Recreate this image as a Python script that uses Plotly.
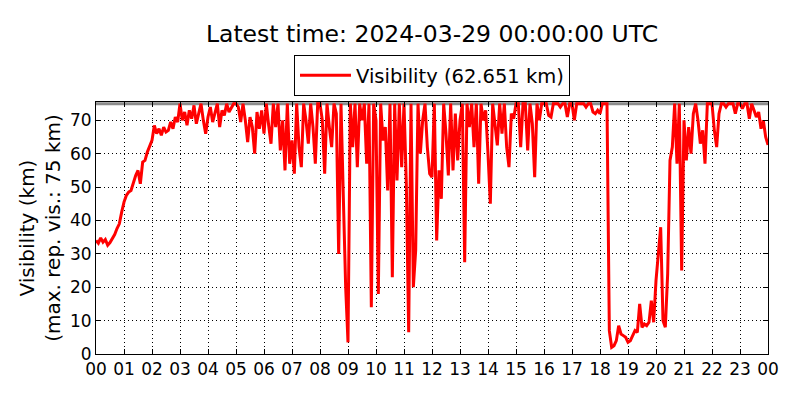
import pandas as pd
import plotly.graph_objects as go

# Visibility (km), one value every 5 minutes
h00_04 = [
    34.0, 33.2, 34.8, 33.5, 34.3, 32.6, 33.4, 34.5, 35.8, 37.6, 39.0, 42.5,   # 00
    45.5, 47.5, 48.5, 49.0, 51.5, 53.5, 55.0, 51.0, 57.5, 58.0, 60.5, 62.0,   # 01
    64.0, 68.5, 66.0, 67.5, 65.5, 68.0, 66.5, 67.0, 69.5, 67.5, 71.0, 69.5,   # 02
    75.0, 70.0, 72.5, 68.5, 73.0, 70.5, 74.5, 69.0, 72.0, 75.0, 70.0, 66.0,   # 03
]
h04_08 = [
    71.0, 74.0, 69.5, 72.5, 75.0, 68.0, 73.0, 71.5, 75.0, 72.5, 74.0, 75.0,   # 04
    75.0, 74.0, 69.5, 75.0, 70.0, 63.5, 71.0, 68.0, 60.0, 72.5, 67.5, 73.0,   # 05
    66.0, 75.0, 68.5, 63.0, 75.0, 68.0, 75.0, 61.0, 70.0, 55.0, 75.0, 57.0,   # 06
    64.0, 54.0, 75.0, 62.0, 56.0, 75.0, 70.0, 63.0, 75.0, 68.0, 57.0, 75.0,   # 07
]
h08_12 = [
    75.0, 70.0, 54.0, 75.0, 68.0, 62.0, 75.0, 72.0, 30.0, 75.0, 47.0, 20.0,   # 08
    3.5, 75.0, 62.0, 75.0, 56.0, 75.0, 70.0, 75.0, 57.0, 75.0, 14.0, 75.0,    # 09
    70.0, 18.0, 75.0, 64.0, 68.0, 49.0, 75.0, 23.0, 75.0, 52.0, 75.0, 56.0,   # 10
    75.0, 51.0, 6.5, 75.0, 20.0, 31.0, 75.0, 60.0, 70.0, 75.0, 62.0, 54.0,    # 11
]
h12_16 = [
    53.0, 75.0, 34.0, 55.0, 46.5, 75.0, 66.0, 53.5, 75.0, 55.0, 72.0, 58.0,   # 12
    70.0, 75.0, 27.5, 75.0, 68.0, 75.0, 62.0, 75.0, 51.0, 75.0, 70.0, 73.0,   # 13
    60.0, 45.0, 75.0, 68.0, 62.5, 75.0, 66.0, 75.0, 62.0, 56.0, 72.0, 70.5,   # 14
    75.0, 75.0, 62.0, 75.0, 75.0, 61.0, 75.0, 69.0, 53.0, 75.0, 70.0, 75.0,   # 15
]
h16_20 = [
    75.0, 75.0, 71.5, 71.0, 75.0, 75.0, 75.0, 74.0, 75.0, 75.0, 71.0, 75.0,   # 16
    75.0, 70.0, 75.0, 75.0, 75.0, 75.0, 74.0, 75.0, 75.0, 72.5, 72.0, 73.0,   # 17
    72.0, 75.0, 75.0, 75.0, 7.0, 2.0, 2.5, 4.0, 8.5, 6.0, 5.5, 5.0,           # 18
    3.5, 4.0, 5.5, 7.0, 6.5, 15.0, 8.0, 9.0, 8.5, 9.5, 16.0, 9.5,             # 19
]
h20_24 = [
    22.0, 30.0, 38.0, 10.0, 8.0, 24.0, 58.0, 62.0, 75.0, 57.0, 75.0, 25.0,    # 20
    70.0, 58.0, 68.0, 60.0, 72.0, 75.0, 70.0, 63.0, 67.0, 57.0, 75.0, 75.0,   # 21
    75.0, 67.0, 62.0, 72.0, 75.0, 75.0, 74.0, 75.0, 75.0, 75.0, 72.0, 75.0,   # 22
    75.0, 73.5, 75.0, 75.0, 70.5, 75.0, 73.0, 71.0, 72.5, 67.5, 70.0, 65.0,   # 23
    62.651,
]

max_vis = 75  # max. reported visibility
start = "2024-03-28 00:00"

vis = h00_04 + h04_08 + h08_12 + h12_16 + h16_20 + h20_24
times = pd.date_range(start, periods=len(vis), freq="5min")

fig = go.Figure()
# gray line at the max reported visibility
fig.add_trace(go.Scatter(x=[times[0], times[-1]], y=[max_vis, max_vis],
                         mode="lines", line=dict(color="#8c8c8c", width=3),
                         showlegend=False, hoverinfo="skip"))
fig.add_trace(go.Scatter(x=times, y=vis, mode="lines",
                         line=dict(color="#ff0000", width=3),
                         name="Visibility (%.3f km)" % vis[-1]))

axis_style = dict(showline=True, linecolor="black", linewidth=1, mirror="ticks",
                  ticks="inside", ticklen=5, tickcolor="black",
                  showgrid=True, gridcolor="black", gridwidth=1, griddash="1px,3px",
                  zeroline=False, tickfont=dict(size=17))

# page has an 8px body margin, so the figure is 784x384 and sits at (8, 8)
fig.update_layout(
    width=784, height=384,
    margin=dict(l=88, r=24, t=94, b=38),
    paper_bgcolor="white", plot_bgcolor="white",
    font=dict(family="DejaVu Sans", color="black"),
    title=dict(text="Latest time: 2024-03-29 00:00:00 UTC", font=dict(size=23.5),
               x=0.5, xref="paper", xanchor="center", y=1 - 25.5 / 384, yanchor="middle"),
    legend=dict(orientation="h", x=0.5, xanchor="center", y=1.1865, yanchor="top",
                bordercolor="black", borderwidth=1, font=dict(size=19.5), itemwidth=51),
    showlegend=True,
)
fig.update_xaxes(type="date", range=[times[0], times[-1]], tickformat="%H",
                 tick0=times[0], dtick=3600000, **axis_style)
fig.update_yaxes(range=[0, 75.5], dtick=10,
                 title=dict(text="Visibility (km)<br>(max. rep. vis.: 75 km)",
                            font=dict(size=20), standoff=3),
                 **axis_style)

fig.write_html("out.html")
